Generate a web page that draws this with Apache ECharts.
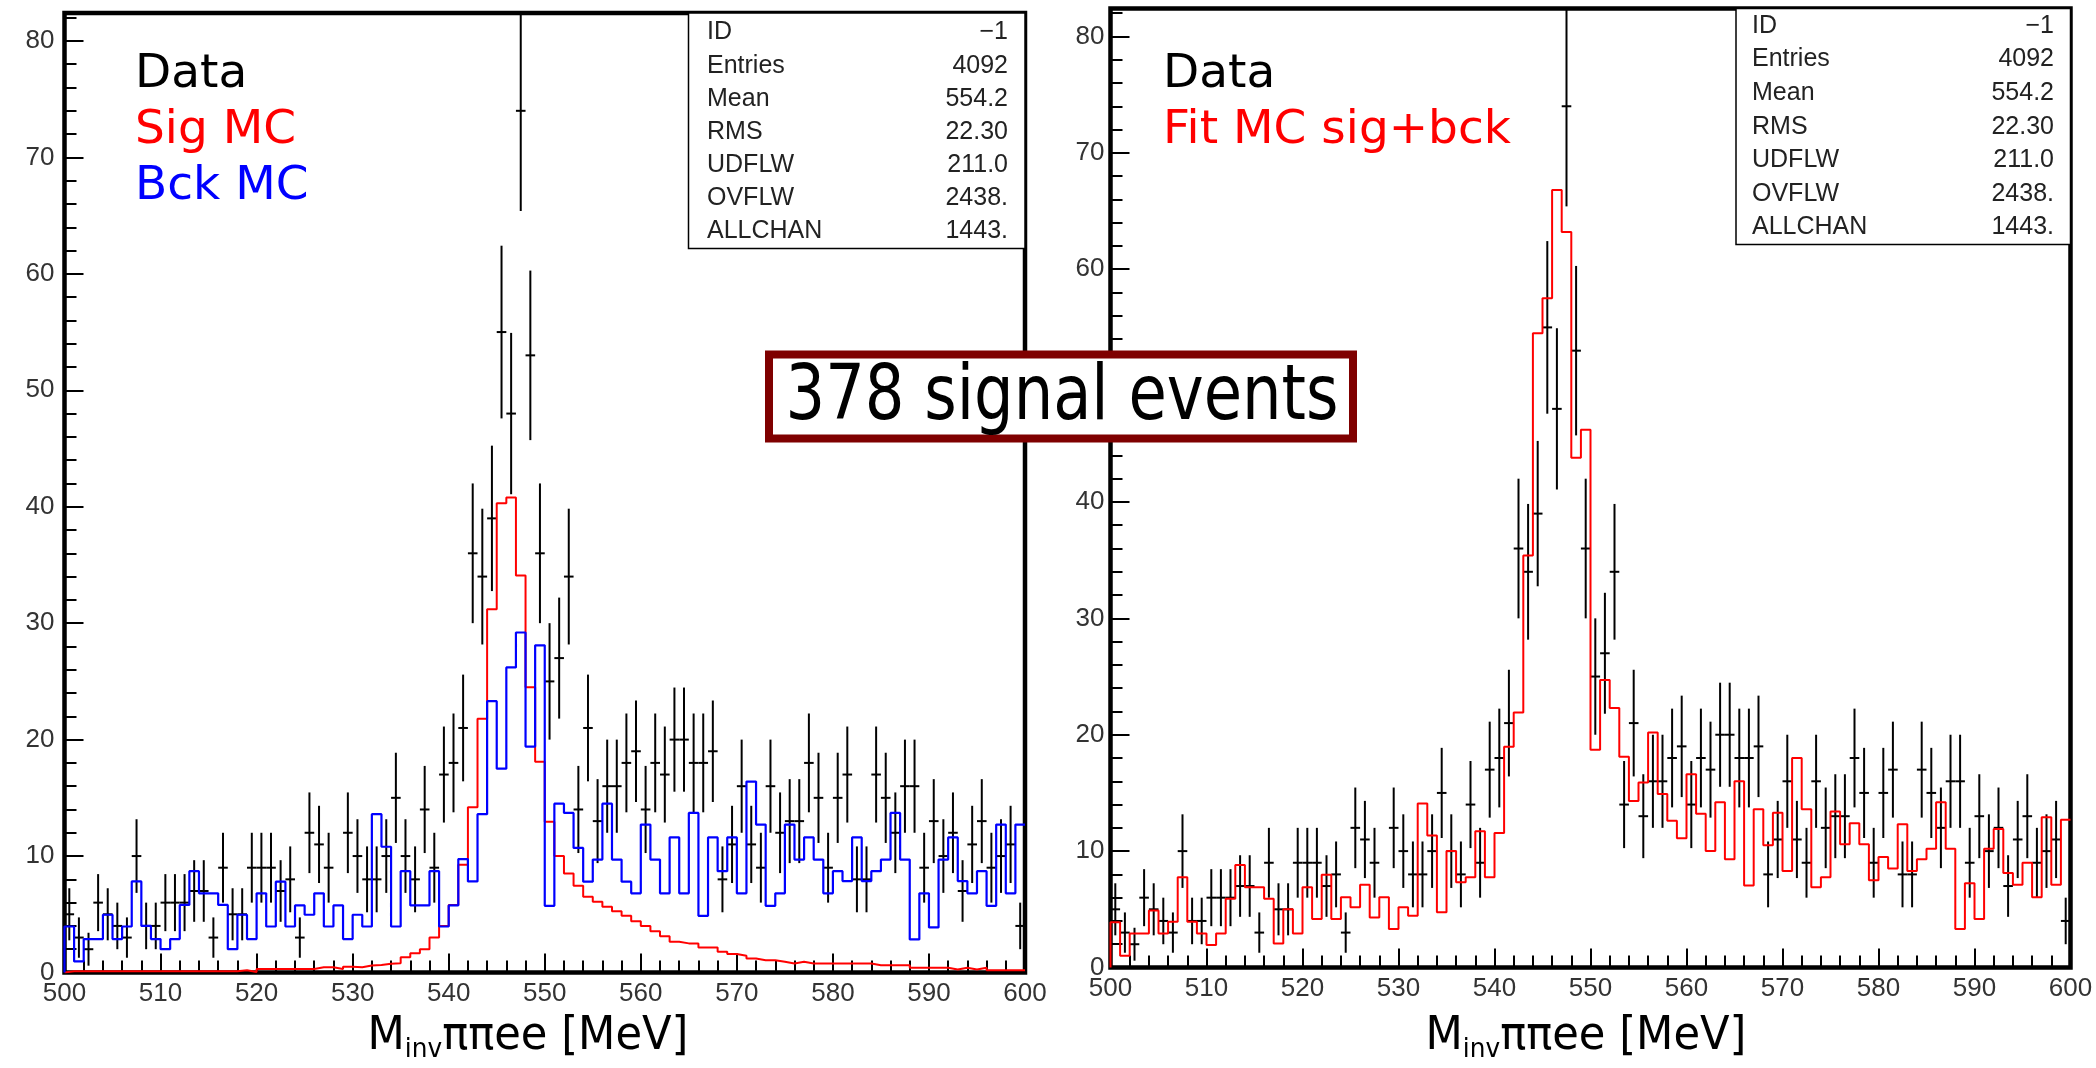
<!DOCTYPE html>
<html><head><meta charset="utf-8">
<script src="https://cdn.jsdelivr.net/npm/echarts@6/dist/echarts.min.js"></script>
<style>html,body{margin:0;padding:0;background:#fff}#c{width:2096px;height:1068px}</style>
</head><body><div id="c"></div>
<script>
// ---- data (1 MeV bins from 500 to 600) ----
const xMin = 500, xMax = 600, binWidth = 1;
const xTickLabels = [500,510,520,530,540,550,560,570,580,590,600];
const yTickLabels = [0,10,20,30,40,50,60,70,80];
const dataCounts = [5,3,2,6,5,4,3,10,4,4, 6,6,6,7,7,3,9,5,5,9, 9,9,7,8,3,12,11,9,0,12,
  10,8,8,10,15,10,8,14,9,17, 18,21,36,34,39,55,48,74,53,36, 25,27,34,14,21,13,16,16,18,19,
  14,18,17,20,20,18,18,19,8,11, 16,11,9,16,12,13,13,18,15,9, 15,17,8,8,17,15,12,16,16,9,
  13,10,12,7,11,13,9,10,11,4];
const sigMC = [0.1,0.1,0.1,0.1,0.1,0.1,0.1,0.1,0.1,0.1, 0.1,0.1,0.1,0.1,0.1,0.1,0.1,0.1,0.2,0.05,
  0.3,0.3,0.3,0.3,0.3,0.3,0.45,0.45,0.3,0.5, 0.45,0.6,0.65,0.75,0.8,1.3,1.65,2.0,3.0,4.0,
  5.8,9.25,14.2,21.8,31.2,40.3,40.8,34.1,24.5,18.1, 12.95,10.0,8.5,7.45,6.5,6.07,5.64,5.27,4.87,4.41,
  4.0,3.55,3.12,2.64,2.5,2.5,2.15,2.15,1.78,1.58, 1.43,1.2,1.06,1.06,0.92,0.77,0.92,0.77,0.77,0.77,
  0.77,0.77,0.77,0.77,0.63,0.63,0.63,0.63,0.4,0.4, 0.4,0.4,0.26,0.4,0.26,0.4,0.2,0.2,0.2,0.2];
const bckMC = [3.95,0.95,2.87,2.87,4.96,2.87,3.95,7.82,4.0,2.87, 2.0,2.87,5.8,8.7,6.8,6.8,5.8,2.0,4.96,2.87,
  6.8,3.95,7.8,3.95,5.76,4.96,6.8,3.95,5.76,2.87, 4.96,3.95,13.6,10.8,3.95,8.7,5.76,5.76,8.7,3.95,
  5.76,9.74,7.82,13.6,23.3,17.5,26.2,29.2,19.4,28.1, 5.73,14.5,13.7,10.7,7.8,9.7,14.5,9.7,7.8,6.8,
  12.7,9.7,6.8,11.6,6.8,13.7,4.87,11.6,8.7,11.6, 6.8,16.4,12.7,5.73,6.8,12.7,9.7,11.6,9.7,6.8,
  8.7,7.85,11.6,7.85,8.7,9.7,13.7,9.7,2.84,6.8, 3.87,9.7,11.6,7.85,6.8,8.7,5.73,12.7,6.8,12.7];
const fitMC = [3.88,1.0,2.93,2.93,4.9,2.93,3.94,7.76,3.94,2.93, 1.93,2.93,5.9,8.8,6.9,6.9,5.9,2.07,5.0,2.93,
  6.9,4.17,7.96,4.17,6.03,5.17,7.1,4.3,6.03,3.3, 5.17,4.45,14.1,11.35,4.74,10.0,7.33,7.76,11.7,7.76,
  11.55,18.97,21.9,35.4,54.5,57.5,66.8,63.2,43.8,46.2, 18.7,24.7,22.3,18.1,14.3,15.9,20.2,14.9,12.6,11.1,
  16.6,13.2,10.0,14.2,9.3,16.0,7.04,13.6,10.5,13.3, 8.3,18.0,13.6,6.9,7.76,13.4,10.6,12.4,10.6,7.5,
  9.5,8.5,12.3,8.3,9.3,10.2,14.2,10.2,3.3,7.24, 4.17,10.2,11.9,8.13,7.1,9.0,6.03,12.9,7.1,12.7];
const statsLabels = ['ID','Entries','Mean','RMS','UDFLW','OVFLW','ALLCHAN'];
const statsValues = ['\u22121','4092','554.2','22.30','211.0','2438.','1443.'];
const legendLeft = [['Data','#000'],['Sig MC','#ff0000'],['Bck MC','#0000ff']];
const legendRight = [['Data','#000'],['Fit MC sig+bck','#ff0000']];
const boxText = '378 signal events';

// ---- chart ----
const Y_MAX = 82.4;
const chart = echarts.init(document.getElementById('c'), null, {renderer:'canvas'});

function histPoints(vals){
  const pts = [[xMin, 0]];
  vals.forEach((v,i)=>pts.push([xMin + i*binWidth, v]));
  pts.push([xMax, vals[vals.length-1]]);
  return pts;
}
function crossData(){
  return dataCounts.map((v,i)=>[xMin + (i+0.5)*binWidth, v]).filter(d=>d[1]>0);
}
function crossSeries(ax){
  return {
    type:'custom', xAxisIndex:ax, yAxisIndex:ax, z:2, animation:false,
    data: crossData(),
    renderItem:(params, api)=>{
      const x = api.value(0), v = api.value(1), e = Math.sqrt(v);
      const cs = params.coordSys;
      const clampY = y => Math.max(cs.y, Math.min(cs.y + cs.height, y));
      const pL = api.coord([x - binWidth/2, v]), pR = api.coord([x + binWidth/2, v]);
      const pT = api.coord([x, v + e]), pB = api.coord([x, Math.max(0, v - e)]);
      return {type:'group', children:[
        {type:'line', shape:{x1:pL[0], y1:pL[1], x2:pR[0], y2:pR[1]}, style:{stroke:'#000', lineWidth:2}},
        {type:'line', shape:{x1:pT[0], y1:clampY(pT[1]), x2:pB[0], y2:clampY(pB[1])}, style:{stroke:'#000', lineWidth:2}}
      ]};
    }
  };
}
function histSeries(ax, vals, color, w){
  return {type:'line', step:'end', xAxisIndex:ax, yAxisIndex:ax, data:histPoints(vals), symbol:'none',
    lineStyle:{color:color, width:w}, z:3, animation:false, silent:true};
}

const labelFont = {fontSize:26, fontFamily:'"Liberation Sans", Arial, sans-serif', color:'#333'};
function grids(left, top, width, height){
  const g = {left, top, width, height, containLabel:false, outerBoundsMode:'none'};
  return [Object.assign({show:true, borderColor:'#000', borderWidth:4.5, backgroundColor:'transparent'}, g),
          Object.assign({show:false}, g)];
}
function xAxes(gi){
  return [
    {gridIndex:gi, type:'value', min:xMin, max:xMax, interval:10, axisLine:{show:false}, splitLine:{show:false},
     axisTick:{inside:true, length:19, lineStyle:{color:'#000', width:2}},
     axisLabel:Object.assign({margin:8, formatter:v=>xTickLabels.includes(v)?String(v):''}, labelFont)},
    {gridIndex:gi+1, type:'value', min:xMin, max:xMax, interval:2, axisLine:{show:false}, splitLine:{show:false},
     axisTick:{inside:true, length:12, lineStyle:{color:'#000', width:2}}, axisLabel:{show:false}}
  ];
}
function yAxes(gi, margin){
  return [
    {gridIndex:gi, type:'value', min:0, max:Y_MAX, interval:10, axisLine:{show:false}, splitLine:{show:false},
     axisTick:{inside:true, length:19, lineStyle:{color:'#000', width:2}},
     axisLabel:Object.assign({margin:margin, showMaxLabel:false, formatter:v=>yTickLabels.includes(v)?String(v):''}, labelFont)},
    {gridIndex:gi+1, type:'value', min:0, max:Y_MAX, interval:2, axisLine:{show:false}, splitLine:{show:false},
     axisTick:{inside:true, length:12, lineStyle:{color:'#000', width:2}}, axisLabel:{show:false}}
  ];
}

const graphics = [];
function legend(items, x, y0){
  items.forEach((it,k)=>graphics.push({type:'text', x:x, y:y0 + k*56, z:50,
    style:{text:it[0], font:'47px "DejaVu Sans"', fill:it[1], align:'left', verticalAlign:'middle', textAlign:'left', textVerticalAlign:'middle'}}));
}
legend(legendLeft, 135, 75);
legend(legendRight, 1163, 75);

function stats(x0, y0, x1, y1, tl, tr, r0, dr){
  graphics.push({type:'rect', z:40, shape:{x:x0, y:y0, width:x1-x0, height:y1-y0},
    style:{fill:'#fff', stroke:'#000', lineWidth:1.5}});
  statsLabels.forEach((s,k)=>{
    graphics.push({type:'text', x:tl, y:r0 + k*dr, z:41,
      style:{text:s, font:'25px "Liberation Sans"', fill:'#222', align:'left', verticalAlign:'middle', textAlign:'left', textVerticalAlign:'middle'}});
    graphics.push({type:'text', x:tr, y:r0 + k*dr, z:41,
      style:{text:statsValues[k], font:'25px "Liberation Sans"', fill:'#222', align:'right', verticalAlign:'middle', textAlign:'right', textVerticalAlign:'middle'}});
  });
}
stats(688.5, 13, 1025, 248.5, 707, 1008, 32.5, 33.15);
stats(1736, 8.5, 2070.5, 244.5, 1752, 2054, 26, 33.6);

function title(cx){
  graphics.push({type:'text', x:cx, y:1011, scaleX:0.92, z:50,
    style:{text:'{m|M}{s|inv}{m|\u03c0\u03c0ee [MeV]}', align:'center', verticalAlign:'top', textAlign:'center', textVerticalAlign:'top',
      rich:{m:{font:'47px "DejaVu Sans"', lineHeight:52, fill:'#000'},
            s:{font:'27px "DejaVu Sans"', lineHeight:10, verticalAlign:'bottom', fill:'#000'}}}});
}
title(528);
title(1586);

graphics.push({type:'rect', z:100, shape:{x:769, y:354.5, width:584, height:84},
  style:{fill:'#fff', stroke:'#7f0000', lineWidth:8}});
graphics.push({type:'text', x:1062, y:399, scaleX:0.82, z:101,
  style:{text:boxText, font:'76px "DejaVu Sans"', fill:'#000', align:'center', verticalAlign:'middle', textAlign:'center', textVerticalAlign:'middle'}});

const option = {
  animation:false,
  backgroundColor:'#fff',
  grid: [...grids(64.5, 13, 960.5, 959.5), ...grids(1110.5, 8.5, 960, 959)],
  xAxis: [...xAxes(0), ...xAxes(2)],
  yAxis: [...yAxes(0, 10), ...yAxes(2, 6)],
  series: [
    crossSeries(0),
    histSeries(0, sigMC, '#ff0000', 2),
    histSeries(0, bckMC, '#0000ff', 2.2),
    crossSeries(2),
    histSeries(2, fitMC, '#ff0000', 2)
  ],
  graphic: {elements: graphics}
};
chart.setOption(option);
</script>
</body></html>
